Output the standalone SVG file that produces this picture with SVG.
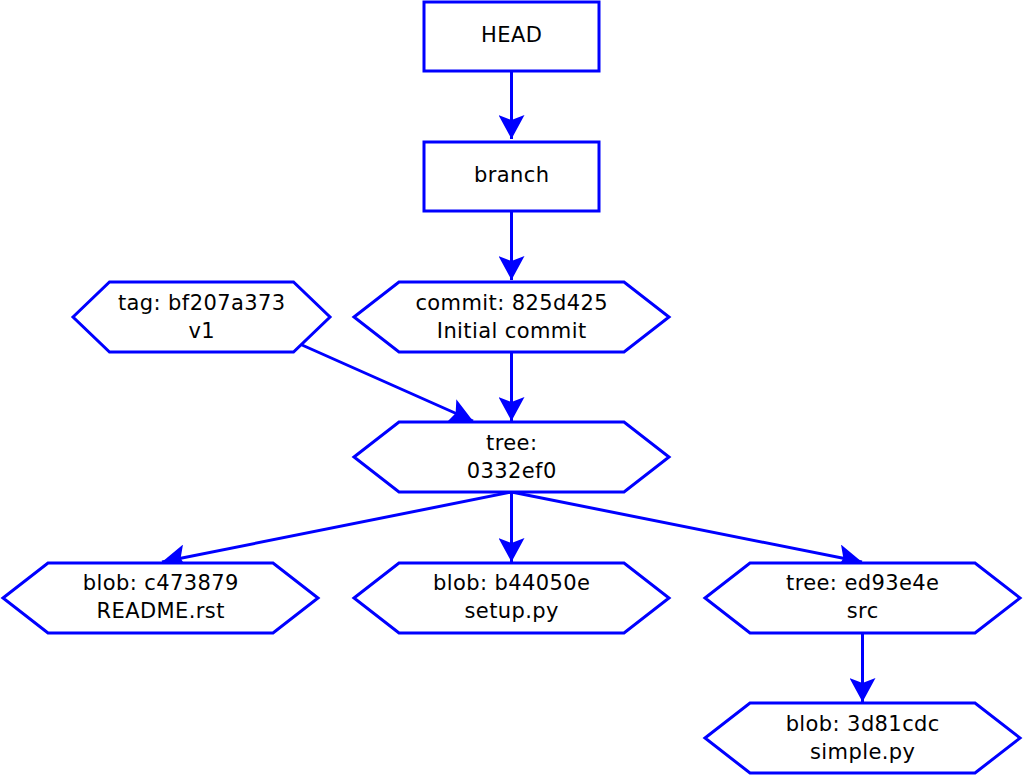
<svg xmlns="http://www.w3.org/2000/svg" width="1024" height="776" viewBox="0 0 1024 776">
<style>
.n{fill:#fff;stroke:#0000ff;stroke-width:3}
.e{fill:none;stroke:#0000ff;stroke-width:3}
text{font-family:"DejaVu Sans",sans-serif;font-size:21px;letter-spacing:0.4px;fill:#000;text-anchor:middle}
</style>
<defs>
<marker id="ah" viewBox="0 0 24 26" refX="24" refY="13" markerWidth="24" markerHeight="26" markerUnits="userSpaceOnUse" orient="auto">
<path d="M24,13 L0,0 L5,13 L0,26 Z" fill="#0000ff"/>
</marker>
</defs>
<rect width="1024" height="776" fill="#fff"/>
<g id="edges">
<line class="e" x1="511.5" y1="71" x2="511.5" y2="139" marker-end="url(#ah)"/>
<line class="e" x1="511.5" y1="211" x2="511.5" y2="280" marker-end="url(#ah)"/>
<line class="e" x1="511.5" y1="352" x2="511.5" y2="421" marker-end="url(#ah)"/>
<line class="e" x1="302" y1="345" x2="473" y2="421" marker-end="url(#ah)"/>
<line class="e" x1="511.5" y1="492" x2="162" y2="562" marker-end="url(#ah)"/>
<line class="e" x1="511.5" y1="492" x2="511.5" y2="562" marker-end="url(#ah)"/>
<line class="e" x1="511.5" y1="492" x2="862" y2="562" marker-end="url(#ah)"/>
<line class="e" x1="862.5" y1="633" x2="862.5" y2="702" marker-end="url(#ah)"/>
</g>
<g id="head">
<rect class="n" x="424" y="2" width="175" height="69"/>
<text x="511.7" y="42">HEAD</text>
</g>
<g id="branch">
<rect class="n" x="424" y="142" width="175" height="69"/>
<text x="511.7" y="182">branch</text>
</g>
<g id="tag">
<polygon class="n" points="73,317 109.5,282 293.5,282 330,317 293.5,352 109.5,352"/>
<text x="201.7" y="310">tag: bf207a373</text>
<text x="201.7" y="337.5">v1</text>
</g>
<g id="commit">
<polygon class="n" points="354,317 399,282 624,282 669,317 624,352 399,352"/>
<text x="511.7" y="310">commit: 825d425</text>
<text x="511.7" y="337.5">Initial commit</text>
</g>
<g id="tree">
<polygon class="n" points="354,457 399,422 624,422 669,457 624,492 399,492"/>
<text x="511.7" y="449.5">tree:</text>
<text x="511.7" y="477.5">0332ef0</text>
</g>
<g id="readme">
<polygon class="n" points="3,598 48,563 273,563 318,598 273,633 48,633"/>
<text x="160.7" y="590">blob: c473879</text>
<text x="160.7" y="617.5">README.rst</text>
</g>
<g id="setup">
<polygon class="n" points="354,598 399,563 624,563 669,598 624,633 399,633"/>
<text x="511.7" y="590">blob: b44050e</text>
<text x="511.7" y="617.5">setup.py</text>
</g>
<g id="src">
<polygon class="n" points="705,598 750,563 975,563 1020,598 975,633 750,633"/>
<text x="862.7" y="590">tree: ed93e4e</text>
<text x="862.7" y="617.5">src</text>
</g>
<g id="simple">
<polygon class="n" points="705,738 750,703 975,703 1020,738 975,773 750,773"/>
<text x="862.7" y="731">blob: 3d81cdc</text>
<text x="862.7" y="759">simple.py</text>
</g>
</svg>
